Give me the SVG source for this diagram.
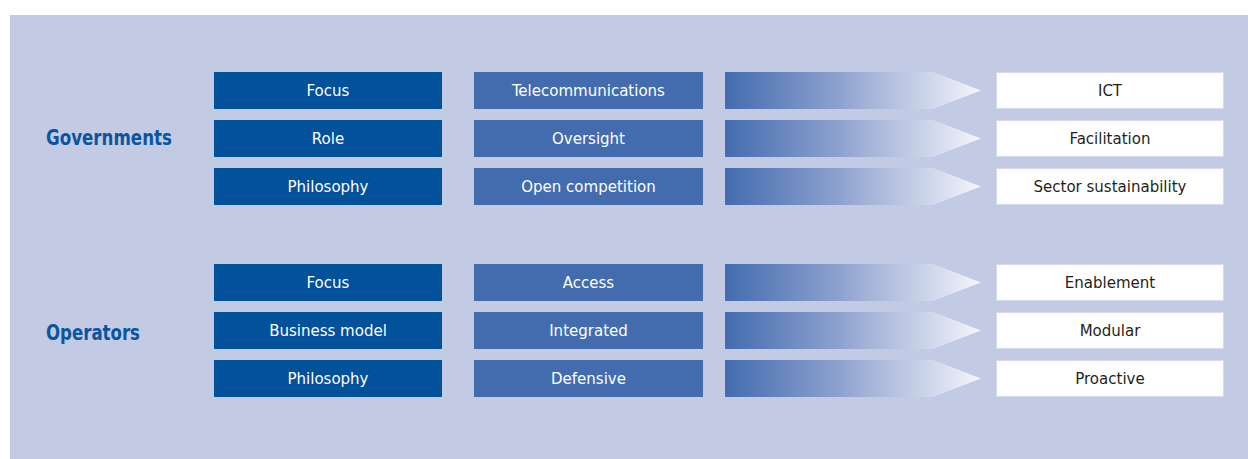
<svg xmlns="http://www.w3.org/2000/svg" width="1248" height="459" viewBox="0 0 1248 459">
<defs>
<linearGradient id="arrowGrad" x1="0" y1="0" x2="256" y2="0" gradientUnits="userSpaceOnUse">
<stop offset="0" stop-color="#436caf"/>
<stop offset="0.45" stop-color="#8fa2cf"/>
<stop offset="1" stop-color="#f4f5fb"/>
</linearGradient>
<polygon id="arrow" points="0,0 208,0 256,18.5 208,37 0,37" fill="url(#arrowGrad)"/>
<style>
.k1{fill:#02519b}
.k2{fill:#436caf}
.k3{fill:#ffffff;stroke:#d6dcee;stroke-width:1}
.t{font-family:"DejaVu Sans Condensed","DejaVu Sans",sans-serif;font-stretch:condensed;font-size:16.7px;text-anchor:middle}
.tw{fill:#ffffff}
.td{fill:#231f20}
.lab{font-family:"DejaVu Sans Condensed","DejaVu Sans",sans-serif;font-stretch:condensed;font-weight:bold;font-size:22px;fill:#0a55a0}
</style>
</defs>
<rect x="10" y="15" width="1238" height="444" fill="#c3cae4"/>
<g id="governments"><text class="lab" x="46" y="144.5" textLength="126" lengthAdjust="spacingAndGlyphs">Governments</text></g>
<g id="operators"><text class="lab" x="46" y="339.5" textLength="94" lengthAdjust="spacingAndGlyphs">Operators</text></g>

<g id="g-focus"><rect class="k1" x="214" y="72" width="228" height="37"/><text class="t tw" x="328" y="95.5">Focus</text></g>
<g id="g-role"><rect class="k1" x="214" y="120" width="228" height="37"/><text class="t tw" x="328" y="143.5">Role</text></g>
<g id="g-philosophy"><rect class="k1" x="214" y="168" width="228" height="37"/><text class="t tw" x="328" y="191.5">Philosophy</text></g>
<g id="o-focus"><rect class="k1" x="214" y="264" width="228" height="37"/><text class="t tw" x="328" y="287.5">Focus</text></g>
<g id="o-business"><rect class="k1" x="214" y="312" width="228" height="37"/><text class="t tw" x="328" y="335.5">Business model</text></g>
<g id="o-philosophy"><rect class="k1" x="214" y="360" width="228" height="37"/><text class="t tw" x="328" y="383.5">Philosophy</text></g>

<g id="g-telecom"><rect class="k2" x="474" y="72" width="229" height="37"/><text class="t tw" x="588.5" y="95.5">Telecommunications</text></g>
<g id="g-oversight"><rect class="k2" x="474" y="120" width="229" height="37"/><text class="t tw" x="588.5" y="143.5">Oversight</text></g>
<g id="g-open"><rect class="k2" x="474" y="168" width="229" height="37"/><text class="t tw" x="588.5" y="191.5">Open competition</text></g>
<g id="o-access"><rect class="k2" x="474" y="264" width="229" height="37"/><text class="t tw" x="588.5" y="287.5">Access</text></g>
<g id="o-integrated"><rect class="k2" x="474" y="312" width="229" height="37"/><text class="t tw" x="588.5" y="335.5">Integrated</text></g>
<g id="o-defensive"><rect class="k2" x="474" y="360" width="229" height="37"/><text class="t tw" x="588.5" y="383.5">Defensive</text></g>

<g id="connectors">
<use href="#arrow" x="725" y="72"/>
<use href="#arrow" x="725" y="120"/>
<use href="#arrow" x="725" y="168"/>
<use href="#arrow" x="725" y="264"/>
<use href="#arrow" x="725" y="312"/>
<use href="#arrow" x="725" y="360"/>
</g>

<g id="g-ict"><rect class="k3" x="996.5" y="72.5" width="227" height="36"/><text class="t td" x="1110" y="95.5">ICT</text></g>
<g id="g-facilitation"><rect class="k3" x="996.5" y="120.5" width="227" height="36"/><text class="t td" x="1110" y="143.5">Facilitation</text></g>
<g id="g-sector"><rect class="k3" x="996.5" y="168.5" width="227" height="36"/><text class="t td" x="1110" y="191.5">Sector sustainability</text></g>
<g id="o-enablement"><rect class="k3" x="996.5" y="264.5" width="227" height="36"/><text class="t td" x="1110" y="287.5">Enablement</text></g>
<g id="o-modular"><rect class="k3" x="996.5" y="312.5" width="227" height="36"/><text class="t td" x="1110" y="335.5">Modular</text></g>
<g id="o-proactive"><rect class="k3" x="996.5" y="360.5" width="227" height="36"/><text class="t td" x="1110" y="383.5">Proactive</text></g>
</svg>
